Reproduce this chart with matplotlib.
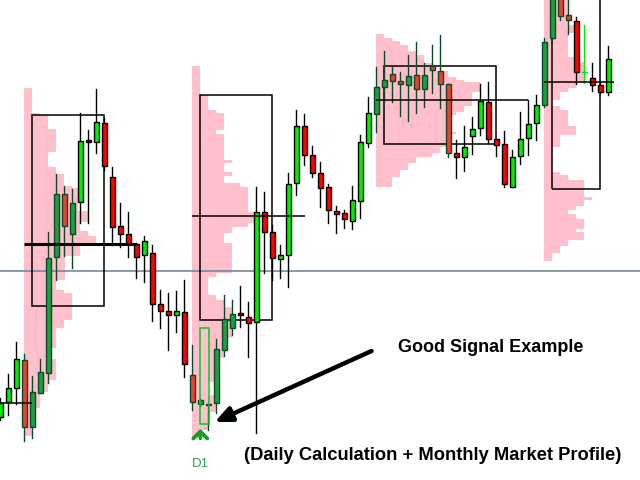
import matplotlib
matplotlib.use("Agg")
import matplotlib.pyplot as plt
from matplotlib.patches import Rectangle

# ---------------- data (price in points) ----------------
opens = [63, 78, 92, 120, 53, 87, 107, 223, 286, 246, 278, 340, 338, 357, 303, 254, 246, 236, 225, 227,
         176, 169, 165, 168, 105, 76, 75, 77, 130, 152, 167, 163, 158, 268, 248, 221, 225, 297, 354, 325,
         307, 293, 269, 267, 259, 279, 337, 366, 393, 406, 399, 395, 405, 391, 414, 409, 396, 327, 323, 344,
         352, 378, 341, 336, 293, 324, 342, 357, 375, 442, 485, 465, 459, 408, 402, 395, 388]
highs = [82, 106, 138, 126, 104, 121, 248, 306, 294, 291, 367, 350, 391, 362, 313, 277, 268, 237, 244, 235,
         190, 187, 189, 200, 135, 81, 76, 141, 185, 180, 194, 178, 293, 288, 255, 235, 307, 370, 366, 334,
         318, 296, 274, 270, 294, 345, 383, 413, 429, 413, 408, 425, 438, 417, 435, 445, 396, 340, 354, 363,
         396, 398, 341, 349, 330, 368, 380, 385, 442, 490, 490, 485, 463, 455, 417, 398, 434]
lows = [60, 65, 76, 39, 42, 87, 97, 200, 224, 212, 257, 257, 327, 310, 235, 233, 223, 202, 198, 159,
        152, 130, 148, 103, 70, 74, 50, 67, 124, 145, 153, 123, 47, 207, 200, 202, 193, 285, 315, 303,
        273, 257, 247, 252, 251, 262, 333, 348, 378, 378, 364, 359, 367, 373, 387, 372, 323, 302, 309, 326,
        345, 337, 324, 293, 293, 316, 325, 340, 373, 440, 460, 446, 396, 397, 389, 387, 385]
closes = [77, 92, 121, 53, 88, 108, 222, 286, 254, 277, 339, 338, 358, 314, 253, 246, 236, 223, 239, 176,
          169, 165, 169, 116, 78, 80, 76, 131, 161, 166, 165, 157, 268, 248, 222, 225, 296, 354, 325, 307,
          292, 270, 266, 261, 280, 338, 367, 393, 400, 399, 396, 404, 391, 405, 410, 396, 327, 323, 333, 351,
          379, 341, 335, 296, 323, 341, 356, 375, 438, 485, 464, 460, 408, 408, 395, 388, 421]

# market profiles: start bar, price band edges (top -> bottom), band lengths in bars
prof_start = [3, 24, 47, 68]
prof_edges = [
    [392, 367, 365, 351, 328, 313, 306, 294, 292, 269, 258, 249, 244, 236, 224, 200, 190, 187, 160, 152,
     132, 121, 100, 88, 72, 44],
    [414, 385, 370, 367, 350, 346, 320, 317, 308, 304, 297, 293, 268, 257, 253, 247, 237, 207, 203, 185,
     180, 173, 142, 122, 98, 85, 68, 50, 43],
    [446, 442, 439, 435, 429, 425, 417, 409, 403, 400, 398, 388, 380, 374, 368, 365, 348, 346, 333, 327,
     323, 317, 310, 303, 293],
    [482, 455, 447, 423, 418, 397, 392, 388, 380, 374, 370, 354, 345, 333, 308, 305, 300, 283, 280, 274,
     270, 266, 261, 251, 248, 240, 234, 227, 219],
]
prof_lengths = [
    [1, 2, 3, 4, 3, 4, 4.9, 6, 6.75, 8, 7, 8, 9, 7, 5.1, 4, 4.9, 6, 4.9, 4, 3, 4, 3, 2, 1],
    [1, 2, 3, 4, 3, 4, 5, 4, 5, 4, 6, 7, 7.9, 7, 5, 4, 5, 3, 2, 3, 4, 5, 4, 3, 2, 3, 2, 1],
    [1, 2, 3, 4, 5, 6, 7, 9, 10, 11, 13, 12, 12, 11, 10, 9, 10, 9, 8, 7, 5, 4, 3, 2],
    [3, 4, 3, 4, 5, 4, 3, 2, 1, 2, 3, 4, 2, 1, 2, 3, 5, 6, 5, 4, 3, 4, 5, 4, 5, 3, 2, 1],
]
# value-area boxes: left bar, right bar, top price, bottom price
box_left = [4, 25, 48, 69]
box_right = [13, 34, 62, 75]
box_top = [365, 385, 414, 485]
box_bottom = [174, 160, 336, 291]
# point-of-control lines: price, from bar, to bar
poc_price = [77, 236, 264, 380, 398]
poc_from = [0, 3, 24, 47, 68]
poc_to = [4, 17, 38.1, 66, 76.75]
ref_level = 209
signal_bar = 25
signal_box_top = 152
signal_box_bottom = 56

# ---------------- drawing ----------------
fig = plt.figure(figsize=(6.4, 4.8), dpi=100)
ax = fig.add_axes([0, 0, 1, 1])
ax.set_xlim(-0.04, 79.96)
ax.set_ylim(0, 480)
ax.axis('off')

PINK = '#ffc0cb'

def covered(x, p):
    for s, ed, ln in zip(prof_start, prof_edges, prof_lengths):
        for k in range(len(ln)):
            if ed[k + 1] <= p <= ed[k] and s <= x <= s + ln[k]:
                return True
    return False

for s, ed, ln in zip(prof_start, prof_edges, prof_lengths):
    for k in range(len(ln)):
        ax.add_patch(Rectangle((s, ed[k + 1]), ln[k], ed[k] - ed[k + 1],
                               facecolor=PINK, edgecolor='none', zorder=1))

ax.axhline(ref_level, color='#778899', lw=1.2, zorder=2)

for l, r, t, b in zip(box_left, box_right, box_top, box_bottom):
    ax.add_patch(Rectangle((l, b), r - l, t - b, fill=False, edgecolor='black', lw=1.1, zorder=2.5))

bw = 0.6
for i, (o, h, l, c) in enumerate(zip(opens, highs, lows, closes)):
    if o == c:
        ax.plot([i, i], [l, h], color='#00ee00', lw=1.0, zorder=3)
        ax.plot([i - 0.35, i + 0.35], [o, o], color='#00ee00', lw=1.0, zorder=3)
        continue
    dark = covered(i, (o + c) / 2)
    up = c > o
    if dark:
        fc = '#1fa040' if up else '#f0402c'
        ec = '#0a4a2a'
    else:
        fc = '#00ee00' if up else '#ff0000'
        ec = 'black'
    ax.plot([i, i], [l, h], color=ec, lw=1.0, zorder=3)
    ax.add_patch(Rectangle((i - bw / 2, min(o, c)), bw, max(abs(c - o), 1.5),
                           facecolor=fc, edgecolor=ec, lw=1.0, zorder=3.5))

for p, a, b in zip(poc_price, poc_from, poc_to):
    ax.plot([a, b], [p, p], color='black', lw=2.2 if p == 236 else 1.1, zorder=4,
            solid_capstyle='butt')

ax.add_patch(Rectangle((signal_bar, signal_box_bottom), 1.1, signal_box_top - signal_box_bottom,
                       fill=False, edgecolor='#00cc22', lw=1.1, zorder=4))

ax.annotate('', xy=(signal_bar, 54), xytext=(signal_bar, 39),
            arrowprops=dict(arrowstyle='->,head_width=0.5,head_length=0.5', lw=2.8,
                            color='#1a9a2a'), zorder=5)
ax.text(signal_bar, 16, 'D1', color='#2e9a5c', fontsize=9.5, ha='center', va='center',
        family='Liberation Sans', zorder=5)

ax.annotate('', xy=(26.8, 58), xytext=(46.4, 129),
            arrowprops=dict(arrowstyle='-|>,head_width=0.45,head_length=1.0', lw=3.2,
                            color='black', shrinkA=0, shrinkB=0), zorder=5)

ax.text(49.75, 133, 'Good Signal Example', fontsize=13, fontweight='bold',
        family='Liberation Sans', ha='left', va='center', zorder=5)
ax.text(30.4, 24, '(Daily Calculation + Monthly Market Profile)', fontsize=13.2,
        fontweight='bold', family='Liberation Sans', ha='left', va='center', zorder=5)

fig.savefig('out.png', dpi=100)
